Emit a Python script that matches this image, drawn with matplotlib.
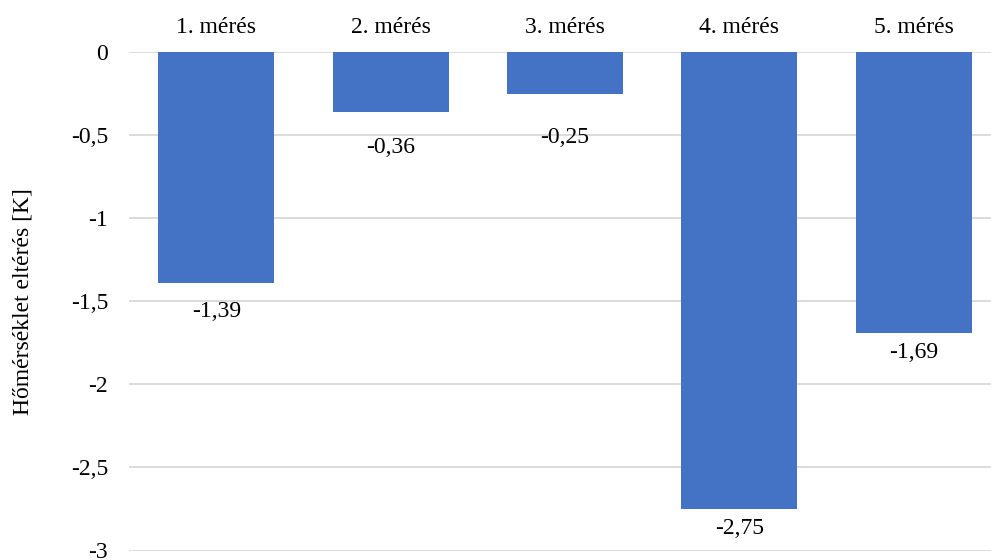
import matplotlib.pyplot as plt
import numpy as np

categories = ['1. mérés', '2. mérés', '3. mérés', '4. mérés', '5. mérés']
values = [-1.39, -0.36, -0.25, -2.75, -1.69]
yticks = [0, -0.5, -1, -1.5, -2, -2.5, -3]
# Excel placed the data labels at uneven distances below the bars
label_offsets = [13, 18, 24, 6.5, 6.5]

plt.rcParams['font.family'] = ['Liberation Serif', 'DejaVu Serif']

fig = plt.figure(figsize=(9.91, 5.6), dpi=100)
# plot area runs a little past the right edge, like in the original
ax = fig.add_axes([129/991, 1-550.5/560, 872/991, 498.5/560])

x = np.arange(len(categories))
bars = ax.bar(x, values, width=0.665, color='#4472C4', zorder=3)

for xi, v, off in zip(x, values, label_offsets):
    ax.annotate(('%.2f' % v).replace('.', ','), (xi, v), xytext=(0, -off),
                textcoords='offset points', ha='center', va='top', fontsize=17)

ax.set_ylim(-3, 0)
ax.set_xlim(-0.5, len(categories)-0.5)
ax.set_yticks(yticks)
ax.set_yticklabels([('%g' % t).replace('.', ',') for t in yticks])
ax.yaxis.grid(True, color='#D9D9D9', linewidth=1.3, zorder=0)
ax.set_axisbelow(True)
ax.xaxis.tick_top()
ax.set_xticks(x)
ax.set_xticklabels(categories)
ax.tick_params(axis='x', length=0, pad=10, labelsize=17)
ax.tick_params(axis='y', length=0, pad=15, labelsize=17)
for s in ax.spines.values():
    s.set_visible(False)
ax.set_ylabel('Hőmérséklet eltérés [K]', fontsize=17, labelpad=27)

fig.savefig('out.png', dpi=100)
